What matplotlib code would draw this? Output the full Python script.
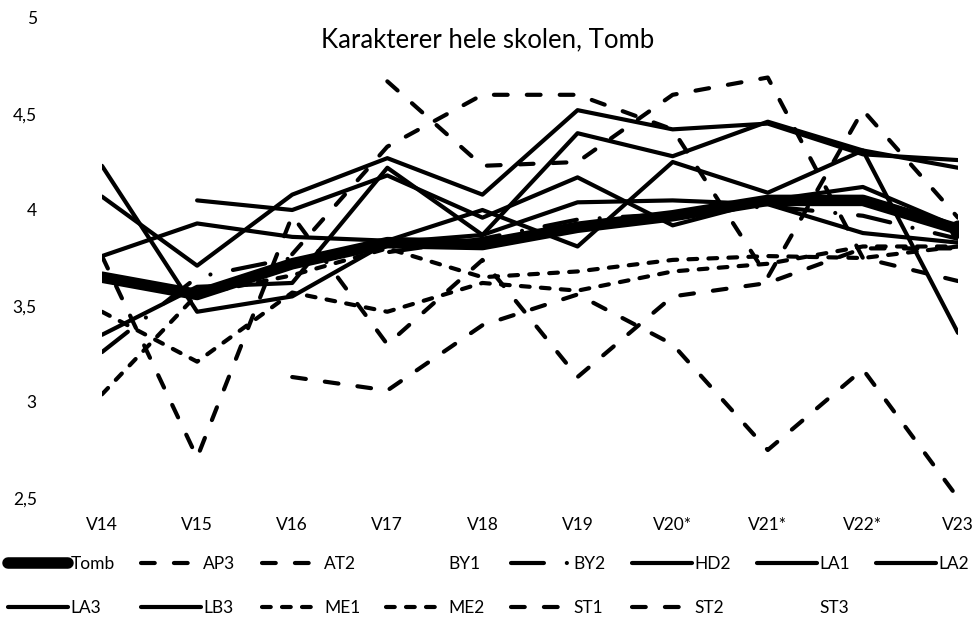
import numpy as np
import matplotlib
matplotlib.use('Agg')
import matplotlib.pyplot as plt
from matplotlib.ticker import FuncFormatter

plt.rcParams['font.family'] = ['Lato', 'DejaVu Sans']

# Data
categories = ['V14', 'V15', 'V16', 'V17', 'V18', 'V19', 'V20*', 'V21*', 'V22*', 'V23']
nan = np.nan

tomb = [3.65, 3.56, 3.72, 3.83, 3.82, 3.91, 3.97, 4.05, 4.05, 3.90]
ap3 = [3.76, 2.71, 3.97, 3.30, 3.74, 3.13, 3.55, 3.62, 3.80, 3.80]
at2 = [nan, nan, 3.77, 4.33, 4.60, 4.60, 4.42, 3.65, 4.52, 3.96]
by1 = [nan] * 10  # ingen synlig linje
by2 = [3.26, 3.65, 3.75, 3.78, 3.85, 3.95, 3.98, 4.02, 3.97, 3.85]
hd2 = [4.23, 3.47, 3.55, 3.83, 3.87, 4.40, 4.28, 4.46, 4.31, 4.22]
la1 = [4.07, 3.71, 4.08, 4.27, 4.08, 4.52, 4.42, 4.45, 4.29, 4.26]
la2 = [3.76, 3.93, 3.86, 3.84, 4.00, 3.81, 4.25, 4.09, 4.31, 3.36]
la3 = [3.35, 3.60, 3.62, 4.22, 3.87, 4.04, 4.05, 4.03, 3.88, 3.83]
lb3 = [nan, 4.05, 4.00, 4.18, 3.96, 4.17, 3.92, 4.05, 4.12, 3.91]
me1 = [3.04, 3.56, 3.66, 3.80, 3.65, 3.68, 3.74, 3.76, 3.75, 3.81]
me2 = [3.47, 3.21, 3.57, 3.47, 3.62, 3.58, 3.68, 3.72, 3.81, 3.81]
st1 = [nan, nan, nan, 4.67, 4.23, 4.25, 4.60, 4.69, 3.75, 3.63]
st2 = [nan, nan, 3.13, 3.06, 3.40, 3.56, 3.30, 2.75, 3.17, 2.50]
st3 = [nan] * 10  # ingen synlig linje

# line styles
long_dash = (0, (3.3, 4.6))
short_dash = (0, (2.1, 2.7))
dash_dot = (0, (7.9, 5.5, 0.01, 5.5))
lw = 3.0

series = [
    ('Tomb', tomb, dict(linewidth=8.3, linestyle='-')),
    ('AP3', ap3, dict(linestyle=long_dash)),
    ('AT2', at2, dict(linestyle=long_dash)),
    ('BY1', by1, dict(linestyle='None')),
    ('BY2', by2, dict(linestyle=dash_dot)),
    ('HD2', hd2, dict(linestyle='-')),
    ('LA1', la1, dict(linestyle='-')),
    ('LA2', la2, dict(linestyle='-')),
    ('LA3', la3, dict(linestyle='-')),
    ('LB3', lb3, dict(linestyle='-')),
    ('ME1', me1, dict(linestyle=short_dash)),
    ('ME2', me2, dict(linestyle=short_dash)),
    ('ST1', st1, dict(linestyle=long_dash)),
    ('ST2', st2, dict(linestyle=long_dash)),
    ('ST3', st3, dict(linestyle='None')),
]

fig = plt.figure(figsize=(9.75, 6.28), dpi=100)
ax = fig.add_axes([102 / 975, 1 - 498 / 628, 856 / 975, 480 / 628])

x = np.arange(len(categories))
handles = {}
for name, vals, style in series:
    kw = dict(color='black', linewidth=lw, solid_capstyle='round',
              dash_capstyle='round', solid_joinstyle='round')
    kw.update(style)
    line, = ax.plot(x, vals, label=name, **kw)
    handles[name] = line

# round end marker on Tomb
ax.plot(x[-1:], tomb[-1:], marker='o', markersize=12, color='black', linestyle='None')

ax.set_xlim(0, len(categories) - 1)
ax.set_ylim(2.5, 5)
ax.set_yticks([2.5, 3, 3.5, 4, 4.5, 5])
ax.yaxis.set_major_formatter(FuncFormatter(lambda v, p: ('%g' % v).replace('.', ',')))
ax.set_xticks(x)
ax.set_xticklabels(categories)
ax.tick_params(axis='both', length=0, labelsize=12.5)
ax.tick_params(axis='y', pad=47)
ax.tick_params(axis='x', pad=14)
for s in ax.spines.values():
    s.set_visible(False)

fig.text(0.5, 1 - 40 / 628, 'Karakterer hele skolen, Tomb', ha='center', va='center', fontsize=18.5)

# legend: matplotlib fills column by column, so interleave the two rows
row1 = ['Tomb', 'AP3', 'AT2', 'BY1', 'BY2', 'HD2', 'LA1', 'LA2']
row2 = ['LA3', 'LB3', 'ME1', 'ME2', 'ST1', 'ST2', 'ST3']
order = []
for i in range(len(row1)):
    order.append(row1[i])
    if i < len(row2):
        order.append(row2[i])
fig.legend([handles[n] for n in order], order, loc='upper left',
           bbox_to_anchor=(8 / 975, 1 - 556 / 628), ncol=8, frameon=False,
           handlelength=3.45, handletextpad=0.15, columnspacing=1.5,
           labelspacing=1.6, borderpad=0, borderaxespad=0, fontsize=12.5)

fig.savefig('out.png', dpi=100, facecolor='white')
